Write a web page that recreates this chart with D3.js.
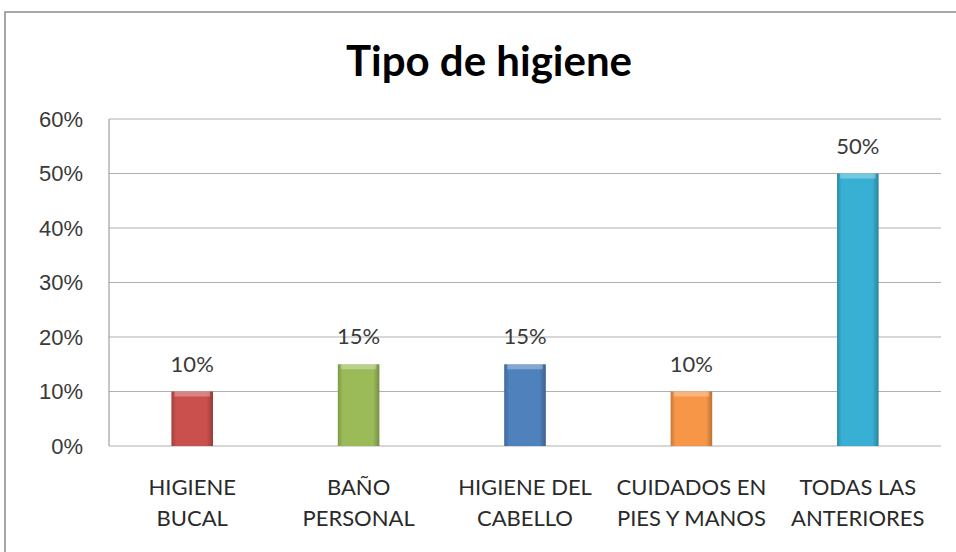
<!DOCTYPE html>
<html>
<head>
<meta charset="utf-8">
<script src="https://cdn.jsdelivr.net/npm/d3@7"></script>
<style>
body { margin: 0; background: #fff; }
svg { display: block; font-family: Lato, "Open Sans", sans-serif; }
.axis path, .axis line { stroke: none; }
.axis text { fill: #3a3a3a; font-size: 22px; }
</style>
</head>
<body>
<svg width="956" height="552"></svg>
<script>
var categories = [["HIGIENE", "BUCAL"], ["BAÑO", "PERSONAL"], ["HIGIENE DEL", "CABELLO"], ["CUIDADOS EN", "PIES Y MANOS"], ["TODAS LAS", "ANTERIORES"]];
var values = [0.10, 0.15, 0.15, 0.10, 0.50];
var colors = ["#c9504c", "#9bbb59", "#4f81bd", "#f79646", "#38b0d4"];
var yTicks = [0, 0.1, 0.2, 0.3, 0.4, 0.5, 0.6];

var svg = d3.select("svg"),
margin = {top: 119, right: 15, bottom: 106, left: 109},
width = +svg.attr("width") - margin.left - margin.right,
height = +svg.attr("height") - margin.top - margin.bottom;

// outer frame
svg.append("rect")
  .attr("x", 5).attr("y", 12)
  .attr("width", 960).attr("height", 560)
  .attr("fill", "none")
  .attr("stroke", "#8a8a8a")
  .attr("stroke-width", 1.5);

svg.append("text")
  .attr("x", 489).attr("y", 76)
  .attr("text-anchor", "middle")
  .style("font-size", "42px")
  .style("font-weight", "bold")
  .attr("fill", "#000")
  .text("Tipo de higiene");

var x = d3.scaleBand().range([0, width]).domain(d3.range(values.length)).paddingInner(0.75).paddingOuter(0.375),
y = d3.scaleLinear().range([height, 0]).domain([0, 0.6]);

var g = svg.append("g")
  .attr("transform", "translate(" + margin.left + "," + margin.top + ")");

// gradients for the bars
var defs = svg.append("defs");
colors.forEach(function(c, i) {
  var grad = defs.append("linearGradient").attr("id", "grad" + i)
    .attr("x1", "0").attr("x2", "1").attr("y1", "0").attr("y2", "0");
  grad.append("stop").attr("offset", "0").attr("stop-color", d3.color(c).darker(0.6));
  grad.append("stop").attr("offset", "0.12").attr("stop-color", c);
  grad.append("stop").attr("offset", "0.85").attr("stop-color", c);
  grad.append("stop").attr("offset", "1").attr("stop-color", d3.color(c).darker(0.8));
});

// gridlines
g.selectAll(".grid")
  .data(yTicks)
  .enter().append("line")
  .attr("class", "grid")
  .attr("x1", 0).attr("x2", width)
  .attr("y1", function(d) { return y(d); })
  .attr("y2", function(d) { return y(d); })
  .attr("stroke", "#b0b0b0")
  .attr("stroke-width", 1.2);

g.append("line")
  .attr("x1", 0).attr("x2", 0).attr("y1", 0).attr("y2", height)
  .attr("stroke", "#a0a0a0").attr("stroke-width", 1.2);

g.append("g")
  .attr("class", "axis")
  .call(d3.axisLeft(y).tickValues(yTicks).tickFormat(d3.format(".0%")).tickSize(0).tickPadding(26));

// bars
g.selectAll(".bar")
  .data(values)
  .enter().append("rect")
  .attr("class", "bar")
  .attr("x", function(d, i) { return x(i); })
  .attr("y", function(d) { return y(d); })
  .attr("width", x.bandwidth())
  .attr("height", function(d) { return height - y(d); })
  .attr("fill", function(d, i) { return "url(#grad" + i + ")"; });

// top bevel highlight
g.selectAll(".bevel")
  .data(values)
  .enter().append("rect")
  .attr("x", function(d, i) { return x(i) + 3; })
  .attr("y", function(d) { return y(d); })
  .attr("width", x.bandwidth() - 6)
  .attr("height", 5)
  .attr("fill", "#fff")
  .attr("opacity", 0.3);

// value labels
g.selectAll(".label")
  .data(values)
  .enter().append("text")
  .attr("x", function(d, i) { return x(i) + x.bandwidth() / 2; })
  .attr("y", function(d) { return y(d) - 20; })
  .attr("text-anchor", "middle")
  .style("font-size", "22px")
  .attr("fill", "#3a3a3a")
  .text(function(d) { return d3.format(".0%")(d); });

// category labels
var cat = g.selectAll(".cat")
  .data(categories)
  .enter().append("text")
  .attr("text-anchor", "middle")
  .style("font-size", "22px")
  .attr("fill", "#2a2a2a")
  .attr("transform", function(d, i) { return "translate(" + (x(i) + x.bandwidth() / 2) + "," + (height + 49) + ")"; });
cat.selectAll("tspan")
  .data(function(d) { return d; })
  .enter().append("tspan")
  .attr("x", 0)
  .attr("dy", function(d, i) { return i ? 31 : 0; })
  .text(function(d) { return d; });
</script>
</body>
</html>
